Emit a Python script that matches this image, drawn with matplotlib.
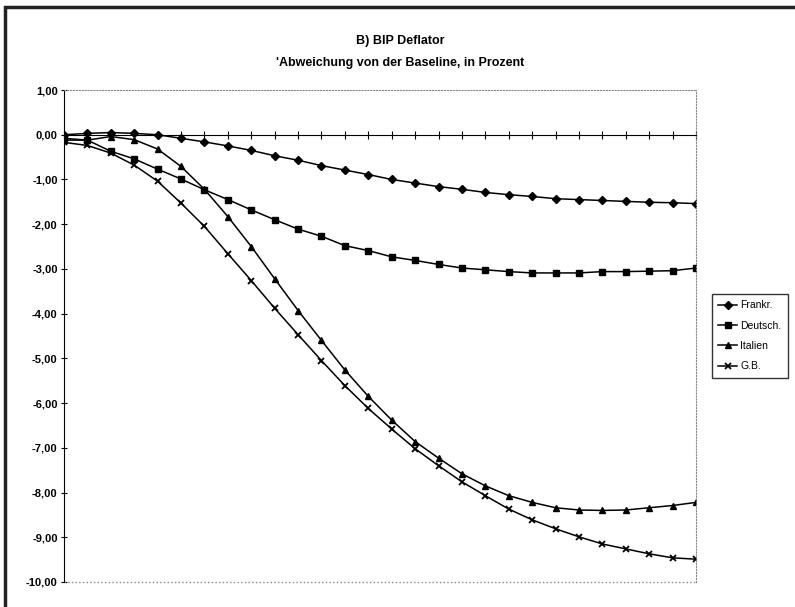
import matplotlib
matplotlib.use("Agg")
import matplotlib.pyplot as plt
from matplotlib.patches import Rectangle

# Abweichung von der Baseline in Prozent, 28 Perioden
periods = list(range(28))

frankr = [0.00, 0.03, 0.05, 0.03, 0.00, -0.08, -0.16, -0.25, -0.35, -0.47,
          -0.57, -0.69, -0.79, -0.89, -1.00, -1.08, -1.16, -1.22, -1.29, -1.34,
          -1.38, -1.43, -1.45, -1.47, -1.49, -1.51, -1.52, -1.54]
deutsch = [-0.08, -0.12, -0.37, -0.54, -0.77, -0.99, -1.23, -1.45, -1.68, -1.90,
           -2.11, -2.27, -2.48, -2.59, -2.73, -2.81, -2.90, -2.98, -3.02, -3.06,
           -3.09, -3.09, -3.09, -3.06, -3.06, -3.05, -3.04, -2.98]
italien = [-0.12, -0.12, -0.04, -0.11, -0.32, -0.71, -1.22, -1.83, -2.50, -3.22,
           -3.93, -4.60, -5.26, -5.85, -6.38, -6.86, -7.23, -7.58, -7.85, -8.07,
           -8.22, -8.34, -8.39, -8.40, -8.39, -8.34, -8.29, -8.22]
gb = [-0.17, -0.24, -0.41, -0.68, -1.04, -1.53, -2.05, -2.66, -3.26, -3.88,
      -4.47, -5.05, -5.61, -6.12, -6.58, -7.02, -7.40, -7.76, -8.07, -8.37,
      -8.61, -8.81, -8.99, -9.15, -9.26, -9.37, -9.46, -9.49]

y_ticks = [1, 0, -1, -2, -3, -4, -5, -6, -7, -8, -9, -10]

title = "B) BIP Deflator"
subtitle = "'Abweichung von der Baseline, in Prozent"

plt.rcParams['font.family'] = ['Liberation Sans', 'DejaVu Sans']

fig = plt.figure(figsize=(7.95, 6.07), dpi=100)
ax = fig.add_axes([0.0805, 0.0412, 0.795, 0.8105])

ax.plot(periods, frankr, color='black', lw=1.1, marker='D', ms=3.8, label='Frankr.')
ax.plot(periods, deutsch, color='black', lw=1.1, marker='s', ms=5, label='Deutsch.')
ax.plot(periods, italien, color='black', lw=1.1, marker='^', ms=5, label='Italien')
ax.plot(periods, gb, color='black', lw=1.1, marker='x', ms=5, mew=1.3, label='G.B.')

ax.set_xlim(0, 27)
ax.set_ylim(-10, 1)

ax.set_yticks(y_ticks)
ax.set_yticklabels([f"{v:.2f}".replace('.', ',') for v in y_ticks], fontsize=8, fontweight='bold')
ax.set_xticks(periods)
ax.set_xticklabels([])

ax.spines['bottom'].set_position(('data', 0))
ax.spines['bottom'].set_color('black')
ax.spines['left'].set_color('black')
for s in ['top', 'right']:
    ax.spines[s].set_linestyle(':')
    ax.spines[s].set_color('#888888')
ax.axhline(-10, color='#888888', ls=':', lw=1, clip_on=False)

ax.tick_params(axis='x', direction='inout', length=6, width=0.8)
ax.tick_params(axis='y', direction='inout', length=5, width=0.8, pad=2)

fig.text(0.503, 0.933, title, ha='center', va='center', fontsize=9, fontweight='bold')
fig.text(0.503, 0.896, subtitle, ha='center', va='center', fontsize=9, fontweight='bold')

fig.legend(loc='upper left', bbox_to_anchor=(0.8956, 0.5157), fontsize=7.5,
           frameon=True, fancybox=False, edgecolor='black', handlelength=1.8,
           borderaxespad=0, labelspacing=1.0, handletextpad=0.3, borderpad=0.6)

# Rahmen links/oben
fig.patches.append(Rectangle((5 / 795, -0.1), 1.2, 1.1 - 7 / 607, transform=fig.transFigure,
                             fill=False, lw=2.5, edgecolor='#222222'))

fig.savefig("out.png", dpi=100)
